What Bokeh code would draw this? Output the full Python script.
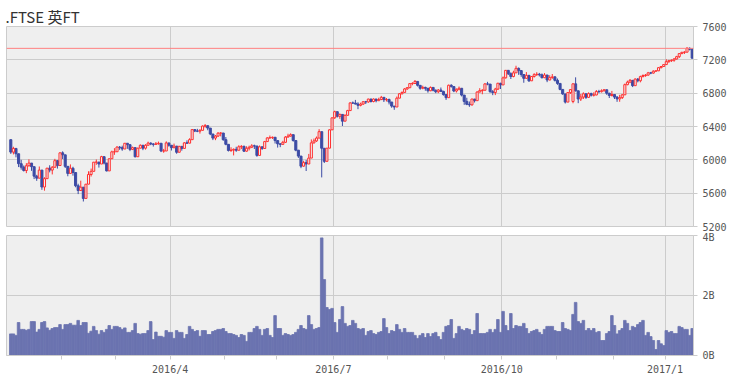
from bokeh.plotting import figure
from bokeh.models import ColumnDataSource, Range1d, FixedTicker, Span
from bokeh.layouts import column
from bokeh.embed import file_html
from bokeh.resources import INLINE

title_text = ".FTSE 英FT"
month_labels = ["2016/1", "2016/2", "2016/3", "2016/4", "2016/5", "2016/6", "2016/7",
                "2016/8", "2016/9", "2016/10", "2016/11", "2016/12", "2017/1"]
month_trading_days = [20, 21, 21, 21, 20, 22, 21, 22, 22, 21, 22, 20, 11]
labelled_months = ["2016/4", "2016/7", "2016/10", "2017/1"]
price_ticks = [5200, 5600, 6000, 6400, 6800, 7200, 7600]
volume_ticks = [0, 2, 4]
volume_tick_labels = ["0B", "2B", "4B"]
ref_level = 7337.81

opens = [
    6242, 6093, 6137, 6073, 5954, 5912, 5872, 5929, 5961, 5918, 5804, 5780, 5877, 5674, 5774, 5900, 5877, 5911, 5990, 5932,
    6084, 6060, 5922, 5837, 5899, 5848, 5689, 5632, 5672, 5537, 5708, 5824, 5862, 5972, 5973, 5950, 6038, 5962, 5867, 6013, 6096,
    6097, 6153, 6147, 6130, 6199, 6182, 6125, 6146, 6037, 6140, 6175, 6140, 6175, 6201, 6190, 6185, 6193, 6199, 6106, 6106, 6203,
    6175, 6146, 6165, 6091, 6162, 6137, 6204, 6200, 6242, 6363, 6345, 6344, 6354, 6405, 6410, 6381, 6310, 6261, 6285, 6320, 6322,
    6242, 6186, 6112, 6117, 6126, 6115, 6157, 6162, 6104, 6139, 6151, 6168, 6166, 6053, 6156, 6136, 6219, 6263, 6266, 6271,
    6231, 6192, 6186, 6210, 6273, 6285, 6302, 6232, 6116, 6045, 5924, 5967, 5950, 6021, 6204, 6227, 6261, 6338, 6139, 5982, 6140, 6360,
    6504, 6578, 6522, 6545, 6464, 6534, 6591, 6683, 6681, 6670, 6654, 6669, 6697, 6695, 6729, 6700, 6730, 6710, 6724, 6750, 6721,
    6724, 6694, 6645, 6634, 6740, 6793, 6809, 6851, 6866, 6915, 6916, 6941, 6894, 6859, 6869, 6859, 6829, 6869, 6836, 6817, 6838, 6821,
    6782, 6746, 6895, 6879, 6826, 6847, 6859, 6777, 6701, 6666, 6660, 6730, 6710, 6814, 6831, 6835, 6911, 6909, 6818, 6808, 6849, 6919,
    6899, 6984, 7074, 7033, 7000, 7044, 7098, 7071, 7024, 6978, 7014, 6948, 7000, 7022, 7027, 7020, 6986, 7018, 6958, 6987, 6996,
    6954, 6917, 6845, 6791, 6693, 6807, 6700, 6912, 6828, 6730, 6753, 6793, 6750, 6795, 6776, 6778, 6820, 6818, 6829, 6841, 6799, 6772,
    6784, 6753, 6731, 6747, 6780, 6902, 6932, 6954, 6890, 6969, 6949, 6999, 7012, 7017, 7044, 7041, 7064, 7068, 7106, 7120,
    7143, 7178, 7190, 7195, 7210, 7238, 7275, 7290, 7292, 7338, 7327,
]
highs = [
    6242, 6157, 6137, 6073, 6000, 5932, 5960, 6006, 5961, 5918, 5820, 5920, 5877, 5791, 5901, 5935, 5925, 6012, 5997, 6090,
    6102, 6060, 5922, 5945, 5917, 5848, 5713, 5750, 5672, 5710, 5863, 5895, 5972, 6004, 5975, 6048, 6038, 5962, 6014, 6110, 6140,
    6163, 6166, 6170, 6202, 6199, 6182, 6159, 6154, 6145, 6185, 6175, 6188, 6218, 6210, 6200, 6214, 6219, 6199, 6131, 6222, 6203,
    6175, 6195, 6165, 6167, 6162, 6214, 6234, 6259, 6367, 6368, 6372, 6368, 6413, 6430, 6410, 6381, 6310, 6298, 6333, 6332, 6322,
    6274, 6186, 6151, 6137, 6157, 6175, 6176, 6170, 6163, 6170, 6188, 6182, 6166, 6172, 6159, 6227, 6271, 6292, 6280, 6271,
    6231, 6198, 6228, 6285, 6313, 6318, 6302, 6232, 6116, 6045, 5989, 5999, 6071, 6245, 6255, 6280, 6368, 6338, 6139, 6141, 6366, 6507,
    6590, 6578, 6556, 6545, 6546, 6600, 6690, 6700, 6719, 6691, 6686, 6706, 6707, 6734, 6733, 6737, 6730, 6745, 6767, 6750, 6742,
    6735, 6694, 6645, 6760, 6800, 6820, 6860, 6872, 6920, 6932, 6958, 6941, 6894, 6890, 6878, 6859, 6880, 6869, 6843, 6850, 6868, 6829,
    6790, 6903, 6907, 6879, 6856, 6880, 6859, 6777, 6745, 6700, 6732, 6730, 6822, 6860, 6848, 6920, 6936, 6909, 6837, 6864, 6924, 6924,
    7000, 7078, 7074, 7050, 7069, 7129, 7108, 7071, 7024, 7053, 7014, 7006, 7040, 7052, 7043, 7036, 7041, 7018, 7015, 7030, 7000,
    6976, 6917, 6845, 6791, 6812, 6847, 6919, 6990, 6830, 6790, 6810, 6793, 6810, 6806, 6810, 6838, 6840, 6846, 6850, 6841, 6805, 6827,
    6788, 6765, 6780, 6790, 6915, 6950, 6970, 6954, 6978, 6982, 7010, 7025, 7030, 7055, 7055, 7075, 7075, 7111, 7125, 7148,
    7207, 7200, 7205, 7222, 7248, 7279, 7296, 7304, 7354, 7349, 7340,
]
lows = [
    6071, 6065, 6030, 5913, 5882, 5860, 5840, 5920, 5868, 5769, 5748, 5780, 5640, 5630, 5774, 5850, 5825, 5906, 5895, 5932,
    6010, 5902, 5803, 5837, 5810, 5671, 5589, 5626, 5500, 5537, 5708, 5800, 5862, 5940, 5907, 5950, 5945, 5861, 5867, 6013, 6060,
    6097, 6120, 6109, 6130, 6132, 6104, 6117, 6029, 6037, 6140, 6116, 6123, 6175, 6176, 6159, 6180, 6182, 6093, 6085, 6106, 6158,
    6112, 6139, 6073, 6091, 6110, 6137, 6190, 6199, 6242, 6333, 6332, 6315, 6354, 6386, 6355, 6296, 6237, 6236, 6275, 6282, 6229,
    6175, 6100, 6095, 6053, 6096, 6115, 6129, 6094, 6096, 6113, 6141, 6130, 6037, 6053, 6119, 6130, 6219, 6254, 6250, 6196,
    6147, 6152, 6180, 6203, 6271, 6279, 6218, 6103, 6023, 5900, 5917, 5866, 5950, 6021, 6195, 6215, 6260, 5789, 5962, 5982, 6140, 6360,
    6492, 6508, 6492, 6406, 6464, 6534, 6591, 6670, 6664, 6608, 6642, 6660, 6670, 6684, 6688, 6690, 6690, 6705, 6716, 6694, 6700,
    6665, 6625, 6600, 6634, 6740, 6785, 6809, 6840, 6859, 6895, 6913, 6880, 6841, 6847, 6829, 6806, 6824, 6822, 6800, 6800, 6814, 6771,
    6719, 6746, 6867, 6812, 6808, 6834, 6761, 6660, 6656, 6636, 6650, 6688, 6710, 6808, 6787, 6835, 6895, 6805, 6776, 6777, 6838, 6850,
    6899, 6976, 7018, 6970, 6990, 7044, 7020, 6997, 6925, 6978, 6935, 6948, 6987, 7007, 7000, 6976, 6980, 6932, 6955, 6972, 6940,
    6900, 6835, 6780, 6676, 6693, 6790, 6679, 6820, 6680, 6706, 6730, 6731, 6742, 6760, 6760, 6775, 6800, 6808, 6820, 6780, 6742, 6760,
    6730, 6696, 6697, 6730, 6780, 6895, 6920, 6873, 6890, 6930, 6930, 6990, 6996, 7010, 7028, 7035, 7055, 7065, 7097, 7115,
    7143, 7165, 7175, 7177, 7204, 7222, 7268, 7270, 7290, 7313, 7215,
]
closes = [
    6093, 6137, 6073, 5954, 5912, 5872, 5929, 5961, 5918, 5804, 5780, 5877, 5674, 5774, 5900, 5877, 5911, 5990, 5932, 6084,
    6060, 5922, 5837, 5899, 5848, 5689, 5632, 5672, 5537, 5708, 5824, 5862, 5972, 5973, 5950, 6038, 5962, 5867, 6013, 6096, 6097,
    6153, 6147, 6130, 6199, 6182, 6125, 6146, 6037, 6140, 6175, 6140, 6175, 6201, 6190, 6185, 6193, 6199, 6106, 6106, 6203, 6175,
    6146, 6165, 6091, 6162, 6137, 6204, 6200, 6242, 6363, 6345, 6344, 6354, 6405, 6410, 6381, 6310, 6261, 6285, 6320, 6322, 6242,
    6186, 6112, 6117, 6126, 6115, 6157, 6162, 6104, 6139, 6151, 6168, 6166, 6053, 6156, 6136, 6219, 6263, 6266, 6271, 6231,
    6192, 6186, 6210, 6273, 6285, 6302, 6232, 6116, 6045, 5924, 5967, 5950, 6021, 6204, 6227, 6261, 6338, 6139, 5982, 6140, 6360, 6504,
    6578, 6522, 6545, 6464, 6534, 6591, 6683, 6681, 6670, 6654, 6669, 6697, 6695, 6729, 6700, 6730, 6710, 6724, 6750, 6721, 6724,
    6694, 6645, 6634, 6740, 6793, 6809, 6851, 6866, 6915, 6916, 6941, 6894, 6859, 6869, 6859, 6829, 6869, 6836, 6817, 6838, 6821, 6782,
    6746, 6895, 6879, 6826, 6847, 6859, 6777, 6701, 6666, 6660, 6730, 6710, 6814, 6831, 6835, 6911, 6909, 6818, 6808, 6849, 6919, 6899,
    6984, 7074, 7033, 7000, 7044, 7098, 7071, 7024, 6978, 7014, 6948, 7000, 7022, 7027, 7020, 6986, 7018, 6958, 6987, 6996, 6954,
    6917, 6845, 6791, 6693, 6807, 6843, 6912, 6828, 6730, 6753, 6793, 6750, 6795, 6776, 6778, 6820, 6818, 6829, 6841, 6799, 6772, 6784,
    6753, 6731, 6747, 6780, 6902, 6932, 6954, 6890, 6969, 6949, 6999, 7012, 7017, 7044, 7041, 7064, 7068, 7106, 7120, 7143,
    7178, 7190, 7195, 7210, 7238, 7275, 7290, 7292, 7338, 7327, 7220,
]
volumes_b = [
    0.72, 0.72, 0.67, 1.10, 0.87, 0.87, 0.84, 0.87, 1.13, 1.13, 0.78, 0.87, 1.10, 1.13, 0.92, 0.84, 0.90, 0.93, 0.93, 1.03,
    0.87, 1.03, 1.03, 1.07, 1.01, 1.01, 1.17, 1.00, 1.10, 1.10, 0.74, 0.81, 0.97, 0.83, 0.71, 0.83, 0.77, 0.87, 1.00, 0.87, 0.97,
    0.97, 0.93, 0.87, 0.92, 0.77, 0.77, 0.83, 1.07, 0.73, 0.71, 0.73, 0.73, 0.83, 1.13, 0.53, 0.78, 0.64, 0.64, 0.61, 0.83, 0.77,
    0.77, 0.57, 0.83, 0.77, 0.77, 0.57, 0.70, 0.97, 0.87, 0.80, 0.83, 0.64, 0.83, 0.83, 0.70, 0.70, 0.80, 0.83, 0.87, 0.87, 0.90,
    0.80, 0.73, 0.73, 0.70, 0.67, 0.60, 0.70, 0.67, 0.47, 0.77, 0.77, 0.90, 0.97, 0.87, 0.67, 0.87, 0.90, 0.67, 0.60, 1.33,
    0.90, 0.90, 0.67, 0.73, 0.70, 0.67, 0.70, 0.77, 0.87, 1.00, 0.90, 0.87, 1.33, 1.03, 0.87, 0.90, 0.93, 3.92, 2.53, 1.60, 1.53, 1.57,
    1.10, 0.77, 1.20, 1.63, 1.07, 0.97, 1.00, 1.17, 1.07, 0.90, 0.87, 0.90, 0.67, 0.80, 0.83, 0.73, 0.70, 0.77, 0.80, 1.23, 0.93,
    0.73, 0.83, 0.80, 1.03, 0.87, 0.77, 0.90, 0.77, 0.77, 0.77, 0.67, 0.57, 0.67, 0.73, 0.60, 0.73, 0.63, 0.73, 0.77, 0.63, 0.53, 0.77,
    0.97, 1.00, 1.20, 0.57, 0.73, 0.97, 0.87, 0.83, 0.90, 0.87, 0.70, 0.83, 1.40, 0.73, 0.73, 0.73, 0.77, 0.87, 0.77, 0.87, 1.20, 0.77,
    1.47, 1.00, 0.83, 1.40, 0.90, 1.00, 0.97, 0.97, 1.07, 0.90, 0.73, 0.80, 0.83, 0.87, 0.77, 0.70, 0.87, 0.97, 0.97, 0.97, 0.83,
    0.80, 0.80, 1.10, 0.90, 0.87, 0.83, 1.37, 1.77, 1.13, 1.07, 1.17, 0.83, 0.90, 0.83, 0.90, 0.77, 0.80, 0.50, 0.50, 0.73, 0.80, 1.33,
    1.00, 0.72, 0.83, 0.90, 1.17, 1.07, 0.83, 0.97, 0.93, 1.03, 1.10, 1.17, 0.67, 0.77, 0.63, 0.50, 0.20, 0.50, 0.39, 0.33,
    0.83, 0.77, 0.80, 0.73, 0.73, 0.97, 0.93, 0.87, 0.87, 0.67, 0.90,
]

# ---- derived positions -------------------------------------------------
n = len(closes)
xs = [i + 0.5 for i in range(n)]
month_starts = []
acc = 0
for d in month_trading_days:
    month_starts.append(acc)
    acc += d
major_ticks = [s for s, lab in zip(month_starts, month_labels) if lab in labelled_months]
minor_ticks = [s for s, lab in zip(month_starts, month_labels) if lab not in labelled_months and s > 0]
x_overrides = {s: lab for s, lab in zip(month_starts, month_labels) if lab in labelled_months}

up = dict(x=[], o=[], h=[], l=[], c=[])
dn = dict(x=[], o=[], h=[], l=[], c=[])
for i in range(n):
    tgt = up if closes[i] >= opens[i] else dn
    tgt["x"].append(xs[i]); tgt["o"].append(opens[i]); tgt["h"].append(highs[i])
    tgt["l"].append(lows[i]); tgt["c"].append(closes[i])
src_up = ColumnDataSource(up)
src_dn = ColumnDataSource(dn)
src_vol = ColumnDataSource(dict(x=xs, v=volumes_b))

RED = "#ff3030"
BLUE = "#3c4ba5"
VOL = "#6b73b0"
BG = "#efefef"
GRID = "#cccccc"
TXT = "#555555"
FONT = "DejaVu Sans Mono"

W = 740
LEFT = 6
RIGHT = W - 693

x_range = Range1d(-1.16, n)

p1 = figure(width=W, height=231, x_range=x_range, y_range=Range1d(5200, 7600),
            output_backend="svg", toolbar_location=None, x_axis_location=None,
            y_axis_location="right", min_border_left=LEFT, min_border_right=RIGHT,
            min_border_top=26, min_border_bottom=5, background_fill_color=BG,
            border_fill_color="white", outline_line_color=GRID)
p1.title.text = title_text
p1.title.text_font = "Noto Sans CJK JP"
p1.title.text_font_size = "15px"
p1.title.text_font_style = "normal"
p1.title.text_color = "#333333"
p1.title.standoff = 0
p1.title.offset = -1

p1.xgrid.ticker = FixedTicker(ticks=major_ticks)
p1.xgrid.grid_line_color = GRID
p1.ygrid.grid_line_color = GRID
ya = p1.yaxis[0]
ya.ticker = FixedTicker(ticks=price_ticks)
ya.major_label_text_font = FONT
ya.major_label_text_font_size = "10px"
ya.major_label_text_color = TXT
ya.major_tick_out = 4
ya.major_tick_in = 0
ya.minor_tick_out = 0
ya.minor_tick_in = 0
ya.major_tick_line_color = GRID
ya.axis_line_color = GRID
ya.major_label_standoff = 5

p1.add_layout(Span(location=ref_level, dimension="width", line_color="#ff8080", line_width=1))

p1.segment(x0="x", y0="h", x1="x", y1="l", source=src_dn, line_color=BLUE, line_width=1)
p1.segment(x0="x", y0="h", x1="x", y1="l", source=src_up, line_color=RED, line_width=1)
p1.vbar(x="x", width=0.8, top="o", bottom="c", source=src_dn,
        fill_color=BLUE, line_color=BLUE, line_width=1)
p1.vbar(x="x", width=0.8, top="c", bottom="o", source=src_up,
        fill_color=BG, line_color=RED, line_width=1)

p2 = figure(width=W, height=149, x_range=x_range, y_range=Range1d(0, 4),
            output_backend="svg", toolbar_location=None, y_axis_location="right",
            min_border_left=LEFT, min_border_right=RIGHT, min_border_top=4, min_border_bottom=25,
            background_fill_color=BG, border_fill_color="white", outline_line_color=GRID)
p2.vbar(x="x", width=1.0, top="v", bottom=0, source=src_vol,
        fill_color=VOL, line_color=VOL, line_width=0.8)
p2.xgrid.ticker = FixedTicker(ticks=major_ticks)
p2.xgrid.grid_line_color = GRID
p2.ygrid.grid_line_color = GRID
xa = p2.xaxis[0]
xa.ticker = FixedTicker(ticks=major_ticks, minor_ticks=minor_ticks)
xa.major_label_overrides = x_overrides
xa.major_label_text_font = FONT
xa.major_label_text_font_size = "10px"
xa.major_label_text_color = TXT
xa.major_tick_out = 4
xa.major_tick_in = 0
xa.minor_tick_out = 4
xa.minor_tick_in = 0
xa.major_tick_line_color = GRID
xa.minor_tick_line_color = GRID
xa.axis_line_color = GRID
xa.major_label_standoff = 4
yb = p2.yaxis[0]
yb.ticker = FixedTicker(ticks=volume_ticks)
yb.major_label_overrides = {t: lab for t, lab in zip(volume_ticks, volume_tick_labels)}
yb.major_label_text_font = FONT
yb.major_label_text_font_size = "10px"
yb.major_label_text_color = TXT
yb.major_tick_out = 4
yb.major_tick_in = 0
yb.minor_tick_out = 0
yb.minor_tick_in = 0
yb.major_tick_line_color = GRID
yb.axis_line_color = GRID
yb.major_label_standoff = 5

layout = column(p1, p2, spacing=0)
open("out.html", "w").write(file_html(layout, INLINE))
